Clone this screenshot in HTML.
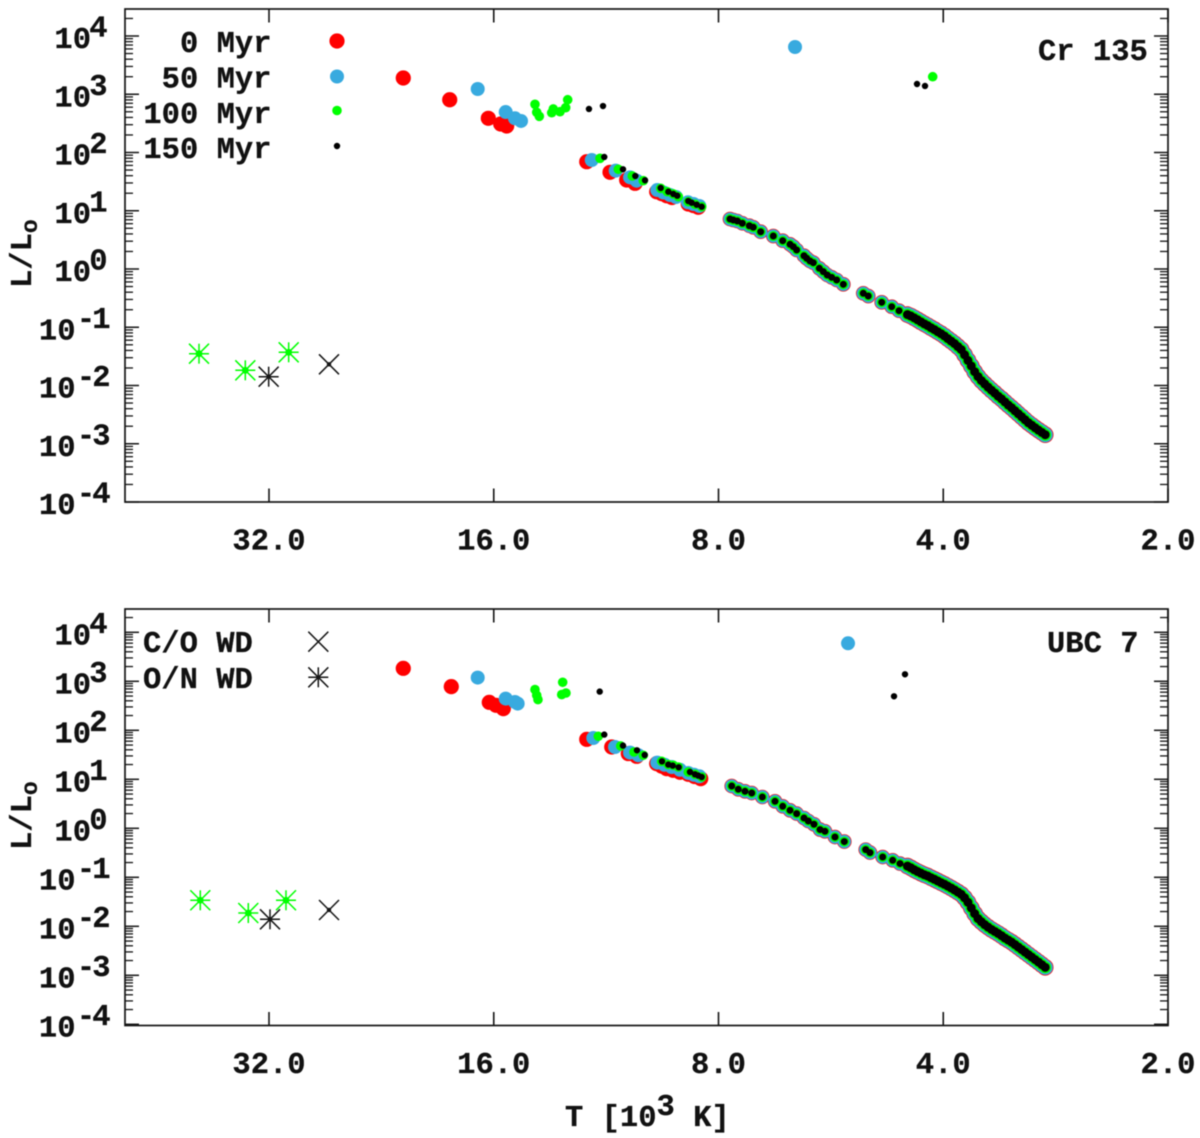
<!DOCTYPE html>
<html lang="en">
<head>
<meta charset="utf-8">
<title>Cr 135 and UBC 7 HR diagrams</title>
<style>
html,body{margin:0;padding:0;background:#fff;width:1200px;height:1138px;overflow:hidden}
svg{display:block;filter:blur(0.45px)}
text{font-family:"Liberation Mono",monospace;font-weight:bold;font-size:30.5px;fill:#111;stroke:#111;stroke-width:0.25px}
</style>
</head>
<body>
<svg id="chart" xmlns="http://www.w3.org/2000/svg" width="1200" height="1138" viewBox="0 0 1200 1138">
  <text x="565" y="1126">T [10<tspan dy="-11">3</tspan><tspan dy="11"> K]</tspan></text>
</svg>
<script>
// Axis ticks
const tempTicks = [32, 16, 8, 4, 2];
const tempTickLabels = ["32.0", "16.0", "8.0", "4.0", "2.0"];
const lumDecades = [4, 3, 2, 1, 0, -1, -2, -3, -4];

// Shared log T values of the dense cool main sequence
const coolLogT = [3.650,3.6455,3.641,3.6365,3.632,3.6275,3.623,3.6185,3.614,3.6095,3.605,3.6005,3.596,3.5915,3.587,3.5825,3.578,3.5735,3.569,3.5645,3.560,3.5555,3.551,3.5465,3.542,3.5375,3.533,3.5285,3.524,3.5195,3.515,3.5105,3.506,3.5015,3.497,3.4925,3.488,3.4835,3.479,3.4745,3.470,3.4655];

// Cr 135: main sequence common to all ages
const crMsLogT = [3.8877,3.8833,3.8779,3.8712,3.8618,3.8565,3.8466,3.8297,3.8171,3.8073,3.8029,3.7984,3.7886,3.7850,3.7805,3.7761,3.7681,3.7627,3.7574,3.7515,3.7448,3.7359,3.7092,3.7025,3.6845,3.6711,3.6613];
const crMsLogL = [0.858,0.841,0.824,0.785,0.743,0.716,0.640,0.566,0.486,0.424,0.383,0.326,0.228,0.184,0.137,0.108,0.012,-0.046,-0.103,-0.143,-0.189,-0.263,-0.417,-0.464,-0.572,-0.647,-0.716];
const crCoolLogL = [-0.783,-0.807,-0.839,-0.872,-0.907,-0.941,-0.972,-1.008,-1.040,-1.077,-1.111,-1.150,-1.195,-1.238,-1.281,-1.332,-1.384,-1.473,-1.569,-1.665,-1.763,-1.847,-1.916,-1.973,-2.028,-2.081,-2.130,-2.184,-2.230,-2.283,-2.335,-2.383,-2.434,-2.486,-2.537,-2.589,-2.640,-2.683,-2.726,-2.767,-2.805,-2.845];

// Cr 135: hot and evolved stars by age
const crAge0LogT = [4.3253,4.2631,4.2114,4.1948,4.1868,4.0796,4.0484,4.0261,4.0149,3.9859,3.9792,3.9725,3.9654,3.9436,3.9368,3.9302];
const crAge0LogL = [3.279,2.906,2.587,2.489,2.455,1.842,1.660,1.528,1.471,1.327,1.293,1.258,1.227,1.116,1.090,1.059];
const crAge50LogT = [3.8006,4.2256,4.1881,4.1757,4.1676,4.0729,4.0408,4.0216,4.0127,3.9851,3.9768,3.9681,3.9600,3.9440,3.9366,3.9288];
const crAge50LogL = [3.811,3.090,2.695,2.587,2.541,1.871,1.688,1.574,1.516,1.356,1.313,1.270,1.236,1.145,1.116,1.082];
const crAge100LogT = [3.6162,4.1489,4.1466,4.1431,4.1265,4.1244,4.1154,4.1078,4.1051,4.0618,4.0373,4.0186,4.0038,3.9805,3.9717,3.9636,3.9569,3.9436,3.9346,3.9256];
const crAge100LogL = [3.301,2.827,2.690,2.621,2.683,2.747,2.700,2.769,2.906,1.900,1.712,1.597,1.516,1.385,1.327,1.288,1.241,1.155,1.111,1.069];
const crAge150LogT = [4.0766,4.0578,3.6372,3.6265,4.0561,4.0310,4.0145,4.0015,3.9805,3.9703,3.9636,3.9583,3.9436,3.9390,3.9323,3.9256];
const crAge150LogL = [2.747,2.798,3.176,3.142,1.923,1.712,1.597,1.523,1.391,1.327,1.288,1.258,1.167,1.138,1.104,1.069];

// Cr 135: white dwarfs
const crGreenStarLogT = [4.5989,4.5369,4.4788];
const crGreenStarLogL = [-1.454,-1.739,-1.430];
const crBlackStarLogT = [4.5056];
const crBlackStarLogL = [-1.849];
const crCrossLogT = [4.4248];
const crCrossLogL = [-1.636];

// UBC 7: main sequence common to all ages
const ubcMsLogT = [3.8854,3.8766,3.8676,3.8586,3.8444,3.8274,3.8171,3.8073,3.7984,3.7886,3.7828,3.7752,3.7671,3.7605,3.7471,3.7346,3.7059,3.7002,3.6832,3.6698,3.6600];
const ubcMsLogL = [0.863,0.796,0.755,0.720,0.639,0.551,0.449,0.367,0.300,0.210,0.149,0.082,-0.026,-0.061,-0.178,-0.271,-0.435,-0.496,-0.586,-0.653,-0.720];
const ubcCoolLogL = [-0.771,-0.806,-0.847,-0.882,-0.916,-0.947,-0.973,-1.008,-1.041,-1.075,-1.110,-1.143,-1.180,-1.218,-1.259,-1.302,-1.347,-1.418,-1.510,-1.626,-1.741,-1.843,-1.908,-1.967,-2.018,-2.065,-2.106,-2.147,-2.192,-2.241,-2.282,-2.324,-2.373,-2.424,-2.475,-2.526,-2.578,-2.629,-2.680,-2.731,-2.784,-2.837];

// UBC 7: hot and evolved stars by age
const ubcAge0LogT = [4.3253,4.2610,4.2101,4.2011,4.1913,4.0796,4.0461,4.0239,4.0127,3.9859,3.9792,3.9725,3.9640,3.9547,3.9436,3.9352,3.9269];
const ubcAge0LogL = [3.265,2.892,2.571,2.510,2.443,1.816,1.659,1.525,1.469,1.320,1.269,1.218,1.184,1.143,1.102,1.057,1.014];
const ubcAge50LogT = [3.7296,4.2256,4.1881,4.1757,4.1721,4.0708,4.0417,4.0216,4.0105,3.9851,3.9754,3.9658,3.9547,3.9436,3.9359,3.9288];
const ubcAge50LogL = [3.776,3.076,2.647,2.578,2.545,1.843,1.659,1.545,1.490,1.341,1.296,1.251,1.194,1.129,1.092,1.061];
const ubcAge100LogT = [4.1489,4.1466,4.1449,4.1118,4.1131,4.1074,4.0641,4.0341,4.0163,4.0038,3.9792,3.9703,3.9636,3.9569,3.9436,3.9346,3.9256];
const ubcAge100LogL = [2.831,2.714,2.627,2.980,2.729,2.761,1.878,1.680,1.557,1.490,1.367,1.300,1.286,1.251,1.149,1.102,1.047];
const ubcAge150LogT = [4.0622,3.6533,3.6680,4.0561,4.0310,4.0123,4.0019,3.9788,3.9703,3.9644,3.9564,3.9413,3.9346,3.9302,3.9256];
const ubcAge150LogL = [2.790,3.143,2.694,1.912,1.688,1.592,1.496,1.367,1.300,1.280,1.245,1.149,1.102,1.076,1.047];

// UBC 7: white dwarfs
const ubcGreenStarLogT = [4.5972,4.5329,4.4824];
const ubcGreenStarLogL = [-1.469,-1.729,-1.469];
const ubcBlackStarLogT = [4.5038];
const ubcBlackStarLogL = [-1.857];
const ubcCrossLogT = [4.4248];
const ubcCrossLogL = [-1.667];

// Age series names
const ageNames = ["0-myr", "50-myr", "100-myr", "150-myr"];
const ageLabels = ["0 Myr", "50 Myr", "100 Myr", "150 Myr"];

const NS = "http://www.w3.org/2000/svg";
const svg = document.getElementById("chart");
const INK = "#151515";
const AGE_COLORS = ["#ff0000", "#38aadf", "#00ff00", "#000000"];
const AGE_RADII = [7.6, 7, 4.8, 3.2];
const MS_RADII = [7.3, 6.7, 5, 3.5];
const COOL_RADII = [8.3, 7.6, 6, 4.5];
const FRAME_LEFT = 125;
const FRAME_RIGHT = 1168;

function xScale(logT) {
  return FRAME_RIGHT - (logT - Math.log10(2000)) * 746.6;
}
function make(tag, parent) {
  const el = document.createElementNS(NS, tag);
  parent.appendChild(el);
  return el;
}
function line(parent, x1, y1, x2, y2, color, width) {
  const el = make("line", parent);
  el.setAttribute("x1", x1);
  el.setAttribute("y1", y1);
  el.setAttribute("x2", x2);
  el.setAttribute("y2", y2);
  el.setAttribute("stroke", color);
  el.setAttribute("stroke-width", width);
  return el;
}
function dot(parent, cx, cy, r, color) {
  const el = make("circle", parent);
  el.setAttribute("cx", cx);
  el.setAttribute("cy", cy);
  el.setAttribute("r", r);
  el.setAttribute("fill", color);
  return el;
}
function cross(parent, cx, cy, color) {
  line(parent, cx - 10, cy - 10, cx + 10, cy + 10, color, 1.5);
  line(parent, cx - 10, cy + 10, cx + 10, cy - 10, color, 1.5);
}
function star(parent, cx, cy, color) {
  cross(parent, cx, cy, color);
  line(parent, cx - 10, cy, cx + 10, cy, color, 1.5);
  line(parent, cx, cy - 10, cx, cy + 10, color, 1.5);
}
function label(parent, x, y, str, anchor) {
  const el = make("text", parent);
  el.setAttribute("x", x);
  el.setAttribute("y", y);
  if (anchor) el.setAttribute("text-anchor", anchor);
  el.textContent = str;
  return el;
}
function pointSet(group, xs, ys, yScale, radius, color, name) {
  xs.forEach((t, i) => {
    const c = dot(group, xScale(t), yScale(ys[i]), radius, color);
    
    
  });
}

function drawPanel(cfg) {
  const yScale = v => cfg.y4 + (4 - v) * cfg.decadePx;
  const panel = make("g", svg);
  
  

  // Series first, axes above
  for (let s = 0; s < 4; s++) {
    const group = make("g", panel);
    
    
    const name = "star-point-" + ageNames[s];
    pointSet(group, cfg.ageT[s], cfg.ageL[s], yScale, AGE_RADII[s], AGE_COLORS[s], name);
    pointSet(group, cfg.msT, cfg.msL, yScale, MS_RADII[s], AGE_COLORS[s], name);
    pointSet(group, coolLogT, cfg.coolL, yScale, COOL_RADII[s], AGE_COLORS[s], name);
  }

  // White dwarf markers
  const wd = make("g", panel);
  
  
  cfg.greenStarT.forEach((t, i) => {
    const g = make("g", wd);
    
    
    const cx = xScale(t), cy = yScale(cfg.greenStarL[i]);
    star(g, cx, cy, "#00ff00");
    dot(g, cx, cy, 3.4, "#00ff00");
  });
  cfg.blackStarT.forEach((t, i) => {
    const g = make("g", wd);
    
    
    const cx = xScale(t), cy = yScale(cfg.blackStarL[i]);
    star(g, cx, cy, INK);
    dot(g, cx, cy, 2.2, INK);
  });
  cfg.crossT.forEach((t, i) => {
    const g = make("g", wd);
    
    
    const cx = xScale(t), cy = yScale(cfg.crossL[i]);
    cross(g, cx, cy, INK);
    dot(g, cx, cy, 2.2, INK);
  });

  // Frame
  const frame = make("rect", panel);
  frame.setAttribute("x", FRAME_LEFT);
  frame.setAttribute("y", cfg.top);
  frame.setAttribute("width", FRAME_RIGHT - FRAME_LEFT);
  frame.setAttribute("height", cfg.bottom - cfg.top);
  frame.setAttribute("fill", "none");
  frame.setAttribute("stroke", INK);
  frame.setAttribute("stroke-width", 1.7);
  
  

  // X axis ticks and labels
  const xAxis = make("g", panel);
  
  
  tempTicks.forEach((T, i) => {
    const x = xScale(Math.log10(T * 1000));
    line(xAxis, x, cfg.top, x, cfg.top + 13.5, INK, 1.6);
    line(xAxis, x, cfg.bottom, x, cfg.bottom - 13.5, INK, 1.6);
    const t = label(xAxis, x, cfg.bottom + 47.5, tempTickLabels[i], "middle");
    
    
  });

  // Y axis ticks and labels
  const yAxis = make("g", panel);
  
  
  lumDecades.forEach(d => {
    const y = yScale(d);
    line(yAxis, FRAME_LEFT, y, FRAME_LEFT + 14, y, INK, 1.5);
    line(yAxis, FRAME_RIGHT, y, FRAME_RIGHT - 14, y, INK, 1.5);
    for (let m = 2; m <= 9; m++) {
      const my = yScale(d + Math.log10(m));
      if (my <= cfg.top + 1) continue;
      line(yAxis, FRAME_LEFT, my, FRAME_LEFT + 8, my, INK, 1.3);
      line(yAxis, FRAME_RIGHT, my, FRAME_RIGHT - 8, my, INK, 1.3);
    }
    const baseEnd = d < 0 ? 75.5 : 91;
    const t = label(yAxis, baseEnd, y + 12, "10", "end");
    
    
    const e = make("text", yAxis);
    e.setAttribute("x", 107.5);
    e.setAttribute("y", y + 0.5);
    e.setAttribute("text-anchor", "end");
    e.setAttribute("letter-spacing", d < 0 ? "-3" : "0");
    
    
    e.textContent = String(d);
  });

  // Y axis title
  const yt = make("text", panel);
  yt.setAttribute("transform", "translate(31," + cfg.yTitleBase + ") rotate(-90)");
  
  
  yt.textContent = "L/L";
  const sub = make("tspan", yt);
  sub.setAttribute("dy", 6);
  sub.style.fontSize = "23px";
  sub.textContent = "o";

  // Cluster name
  const title = label(panel, cfg.titleX, cfg.titleY, cfg.title);
  
  
  return panel;
}

const topPanel = drawPanel({
  name: "cr-135", title: "Cr 135", titleX: 1038, titleY: 60,
  top: 9, bottom: 502, y4: 36, decadePx: 58.25, yTitleBase: 288,
  msT: crMsLogT, msL: crMsLogL, coolL: crCoolLogL,
  ageT: [crAge0LogT, crAge50LogT, crAge100LogT, crAge150LogT],
  ageL: [crAge0LogL, crAge50LogL, crAge100LogL, crAge150LogL],
  greenStarT: crGreenStarLogT, greenStarL: crGreenStarLogL,
  blackStarT: crBlackStarLogT, blackStarL: crBlackStarLogL,
  crossT: crCrossLogT, crossL: crCrossLogL
});

const bottomPanel = drawPanel({
  name: "ubc-7", title: "UBC 7", titleX: 1047, titleY: 652,
  top: 609, bottom: 1025.5, y4: 632.3, decadePx: 49, yTitleBase: 850,
  msT: ubcMsLogT, msL: ubcMsLogL, coolL: ubcCoolLogL,
  ageT: [ubcAge0LogT, ubcAge50LogT, ubcAge100LogT, ubcAge150LogT],
  ageL: [ubcAge0LogL, ubcAge50LogL, ubcAge100LogL, ubcAge150LogL],
  greenStarT: ubcGreenStarLogT, greenStarL: ubcGreenStarLogL,
  blackStarT: ubcBlackStarLogT, blackStarL: ubcBlackStarLogL,
  crossT: ubcCrossLogT, crossL: ubcCrossLogL
});

// Age legend (top panel)
const ageLegendBase = [52, 87.5, 123, 158];
const ageLegendDot = [41, 76.5, 110.5, 146];
const ageLegend = make("g", topPanel);


ageLabels.forEach((txt, i) => {
  const t = label(ageLegend, 271.5, ageLegendBase[i], txt, "end");
  
  
  const d = dot(ageLegend, 337, ageLegendDot[i], AGE_RADII[i], AGE_COLORS[i]);
  
  
});

// White dwarf legend (bottom panel)
const wdLegend = make("g", bottomPanel);


const coLabel = label(wdLegend, 143, 652, "C/O WD");


const onLabel = label(wdLegend, 143, 688, "O/N WD");


const coMark = make("g", wdLegend);


cross(coMark, 318.3, 641.7, INK);
const onMark = make("g", wdLegend);


star(onMark, 318.3, 677.3, INK);
</script>
</body>
</html>
